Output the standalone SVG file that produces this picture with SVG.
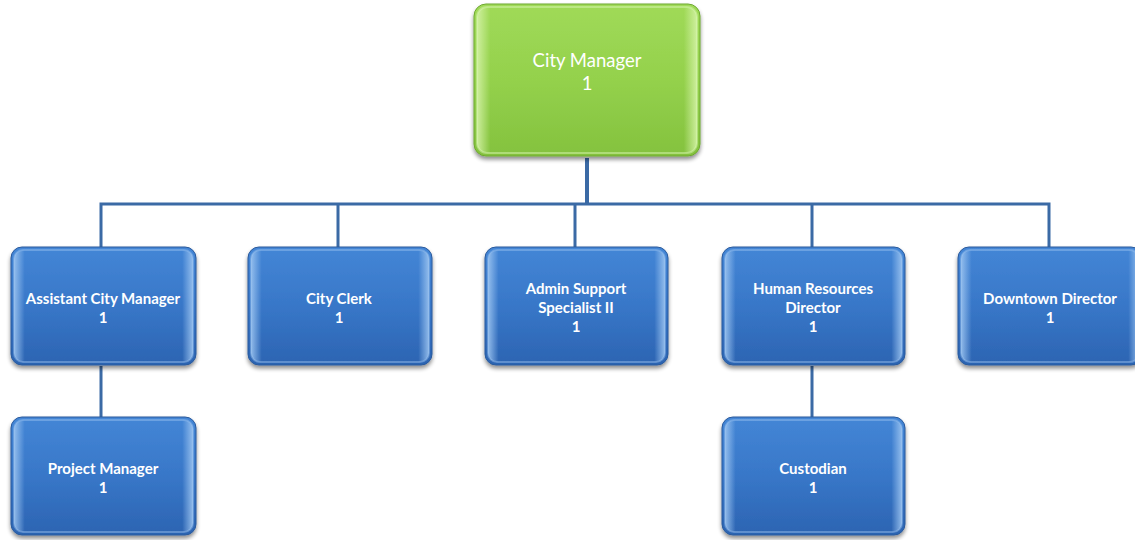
<svg xmlns="http://www.w3.org/2000/svg" width="1135" height="540" viewBox="0 0 1135 540">
  <defs>
    <linearGradient id="blueFill" x1="0" y1="0" x2="0" y2="1">
      <stop offset="0" stop-color="#4486d6"/>
      <stop offset="0.5" stop-color="#3877c8"/>
      <stop offset="1" stop-color="#2c64b2"/>
    </linearGradient>
    <linearGradient id="blueEdge" x1="0" y1="0" x2="1" y2="0">
      <stop offset="0" stop-color="#9cc4f0" stop-opacity="0.9"/>
      <stop offset="0.06" stop-color="#9cc4f0" stop-opacity="0"/>
      <stop offset="0.94" stop-color="#9cc4f0" stop-opacity="0"/>
      <stop offset="1" stop-color="#9cc4f0" stop-opacity="0.9"/>
    </linearGradient>
    <linearGradient id="greenFill" x1="0" y1="0" x2="0" y2="1">
      <stop offset="0" stop-color="#a0da58"/>
      <stop offset="0.5" stop-color="#94d14c"/>
      <stop offset="1" stop-color="#84c23e"/>
    </linearGradient>
    <linearGradient id="greenEdge" x1="0" y1="0" x2="1" y2="0">
      <stop offset="0" stop-color="#d4f2a6" stop-opacity="0.9"/>
      <stop offset="0.06" stop-color="#d4f2a6" stop-opacity="0"/>
      <stop offset="0.94" stop-color="#d4f2a6" stop-opacity="0"/>
      <stop offset="1" stop-color="#d4f2a6" stop-opacity="0.9"/>
    </linearGradient>
    <filter id="shadow" x="-10%" y="-10%" width="120%" height="125%">
      <feGaussianBlur in="SourceAlpha" stdDeviation="2"/>
      <feOffset dx="0" dy="3" result="b"/>
      <feComponentTransfer><feFuncA type="linear" slope="0.45"/></feComponentTransfer>
      <feMerge><feMergeNode/><feMergeNode in="SourceGraphic"/></feMerge>
    </filter>
  </defs>
  <style>
    .box { fill: url(#blueFill); stroke: #2a5a9c; stroke-width: 1; filter: url(#shadow); }
    .bevel { fill: url(#blueEdge); stroke: #9cc4f0; stroke-opacity: 0.45; stroke-width: 2; }
    .gbox { fill: url(#greenFill); stroke: #6fa832; stroke-width: 1; filter: url(#shadow); }
    .gbevel { fill: url(#greenEdge); stroke: #d8f5b0; stroke-opacity: 0.5; stroke-width: 2; }
    .lbl { font-family: Lato, "Open Sans", "Liberation Sans", sans-serif; font-weight: bold; font-size: 15px; fill: #ffffff; text-anchor: middle; }
    .glbl { font-family: Lato, "Open Sans", "Liberation Sans", sans-serif; font-size: 18.5px; fill: #ffffff; text-anchor: middle; }
    .wire { fill: none; stroke: #3b6aa5; stroke-width: 3; }
    .trunk { fill: none; stroke: #3b6aa5; stroke-width: 4; }
  </style>

  <!-- reporting lines -->
  <g id="connectors">
    <path class="trunk" d="M587 158 V204"/>
    <path class="wire" d="M101 250 V204 H1049 V250 M338 204 V250 M575 204 V250 M812 204 V250"/>
    <path class="wire" d="M101 366 V418 M812 366 V418"/>
  </g>

  <g id="city-manager">
    <rect class="gbox" x="474" y="4" width="226" height="152" rx="12"/>
    <rect class="gbevel" x="477" y="7" width="220" height="146" rx="10"/>
    <text class="glbl" x="587" y="67">City Manager</text>
    <text class="glbl" x="587" y="90">1</text>
  </g>

  <g id="assistant-city-manager">
    <rect class="box" x="11" y="247" width="185" height="118" rx="11"/>
    <rect class="bevel" x="14" y="250" width="179" height="112" rx="9"/>
    <text class="lbl" x="103" y="304">Assistant City Manager</text>
    <text class="lbl" x="103" y="323">1</text>
  </g>

  <g id="city-clerk">
    <rect class="box" x="248" y="247" width="184" height="118" rx="11"/>
    <rect class="bevel" x="251" y="250" width="178" height="112" rx="9"/>
    <text class="lbl" x="339" y="304">City Clerk</text>
    <text class="lbl" x="339" y="323">1</text>
  </g>

  <g id="admin-support-specialist">
    <rect class="box" x="485" y="247" width="183" height="118" rx="11"/>
    <rect class="bevel" x="488" y="250" width="177" height="112" rx="9"/>
    <text class="lbl" x="576" y="294">Admin Support</text>
    <text class="lbl" x="576" y="313">Specialist II</text>
    <text class="lbl" x="576" y="332">1</text>
  </g>

  <g id="human-resources-director">
    <rect class="box" x="722" y="247" width="183" height="118" rx="11"/>
    <rect class="bevel" x="725" y="250" width="177" height="112" rx="9"/>
    <text class="lbl" x="813" y="294">Human Resources</text>
    <text class="lbl" x="813" y="313">Director</text>
    <text class="lbl" x="813" y="332">1</text>
  </g>

  <g id="downtown-director">
    <rect class="box" x="958" y="247" width="184" height="118" rx="11"/>
    <rect class="bevel" x="961" y="250" width="178" height="112" rx="9"/>
    <text class="lbl" x="1050" y="304">Downtown Director</text>
    <text class="lbl" x="1050" y="323">1</text>
  </g>

  <g id="project-manager">
    <rect class="box" x="11" y="417" width="185" height="118" rx="11"/>
    <rect class="bevel" x="14" y="420" width="179" height="112" rx="9"/>
    <text class="lbl" x="103" y="474">Project Manager</text>
    <text class="lbl" x="103" y="493">1</text>
  </g>

  <g id="custodian">
    <rect class="box" x="722" y="417" width="183" height="118" rx="11"/>
    <rect class="bevel" x="725" y="420" width="177" height="112" rx="9"/>
    <text class="lbl" x="813" y="474">Custodian</text>
    <text class="lbl" x="813" y="493">1</text>
  </g>
</svg>
